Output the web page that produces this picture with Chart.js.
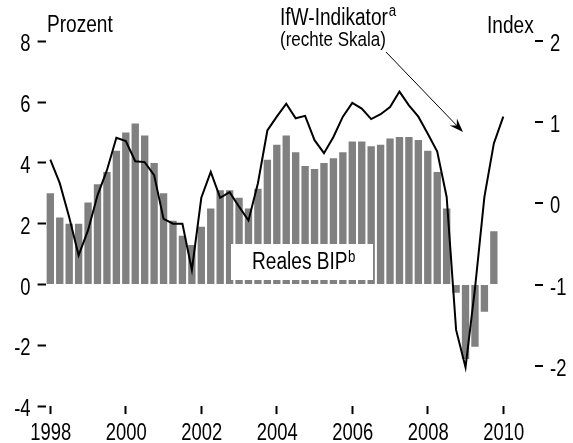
<!DOCTYPE html>
<html><head><meta charset="utf-8">
<script src="https://cdn.jsdelivr.net/npm/chart.js@4.4.1/dist/chart.umd.min.js"></script>
<style>html,body{margin:0;padding:0;background:#fff}#wrap{width:573px;height:443px}</style>
</head><body><div id="wrap"><canvas id="c" width="573" height="443"></canvas></div>
<script>
// Quarterly categories 1998 Q1 .. 2010 Q1
const categories = [
  '1998Q1','1998Q2','1998Q3','1998Q4','1999Q1','1999Q2','1999Q3','1999Q4',
  '2000Q1','2000Q2','2000Q3','2000Q4','2001Q1','2001Q2','2001Q3','2001Q4',
  '2002Q1','2002Q2','2002Q3','2002Q4','2003Q1','2003Q2','2003Q3','2003Q4',
  '2004Q1','2004Q2','2004Q3','2004Q4','2005Q1','2005Q2','2005Q3','2005Q4',
  '2006Q1','2006Q2','2006Q3','2006Q4','2007Q1','2007Q2','2007Q3','2007Q4',
  '2008Q1','2008Q2','2008Q3','2008Q4','2009Q1','2009Q2','2009Q3','2009Q4',
  '2010Q1'
];
// Reales BIP, Veränderung in Prozent (left scale)
const realGDP = [
  3.0, 2.2, 2.0, 2.0, 2.7, 3.3, 3.7, 4.4,
  5.0, 5.3, 4.9, 4.0, 3.0, 2.1, 1.6, 1.3,
  1.9, 2.5, 3.1, 3.1, 2.85, 2.5, 3.15, 4.1,
  4.6, 4.9, 4.35, 3.9, 3.8, 4.0, 4.15, 4.35,
  4.7, 4.7, 4.55, 4.6, 4.8, 4.85, 4.85, 4.75,
  4.4, 3.7, 2.5, -0.27, -2.45, -2.05, -0.9, 1.75
];
// IfW-Indikator, Index (right scale)
const ifwIndicator = [
  0.54, 0.25, -0.17, -0.64, -0.33, 0.10, 0.41, 0.81,
  0.77, 0.52, 0.51, 0.35, -0.19, -0.25, -0.25, -0.82,
  0.07, 0.39, 0.07, 0.14, -0.04, -0.21, 0.25, 0.90,
  1.07, 1.23, 1.05, 1.08, 0.78, 0.62, 0.82, 1.07,
  1.24, 1.17, 1.04, 1.10, 1.19, 1.38, 1.21, 1.07,
  0.86, 0.64, 0.08, -1.56, -2.02, -1.05, 0.08, 0.74,
  1.07
];
const xTickLabels = ['1998','2000','2002','2004','2006','2008','2010'];
const leftTicks = [-4, -2, 0, 2, 4, 6, 8];
const rightTicks = [-2, -1, 0, 1, 2];

const FONT = '"Liberation Sans",Arial,sans-serif';
Chart.defaults.font.family = FONT;
Chart.defaults.color = '#000';

function yearLabel(i) {
  const c = categories[i];
  if (!c || !c.endsWith('Q1')) return '';
  const y = c.slice(0, 4);
  return xTickLabels.includes(y) ? y : '';
}

// condensed text (the original uses a narrow Helvetica/Arial)
function narrowText(ctx, text, x, y, size, align, sx) {
  ctx.save();
  ctx.translate(x, y);
  ctx.scale(sx || 0.83, 1);
  ctx.font = size + 'px ' + FONT;
  ctx.textAlign = align || 'left';
  ctx.textBaseline = 'alphabetic';
  ctx.fillText(text, 0, 0);
  const w = ctx.measureText(text).width * (sx || 0.83);
  ctx.restore();
  return w;
}

const annotations = {
  id: 'annotations',
  afterDatasetsDraw(chart) {
    const ctx = chart.ctx;
    ctx.save();
    ctx.fillStyle = '#fff';
    ctx.fillRect(231, 244, 142, 36);
    ctx.restore();
  },
  afterDraw(chart) {
    const ctx = chart.ctx;
    const xs = chart.scales.x, ys = chart.scales.y, y1 = chart.scales.y1;
    const area = chart.chartArea;
    ctx.save();
    ctx.fillStyle = '#000';
    ctx.strokeStyle = '#000';
    // right-axis tick marks and labels
    ctx.lineWidth = 2;
    rightTicks.forEach(v => {
      const y = Math.round(y1.getPixelForValue(v));
      ctx.beginPath();
      ctx.moveTo(area.right + 27, y);
      ctx.lineTo(area.right + 35, y);
      ctx.stroke();
      narrowText(ctx, String(v), area.right + 42, y + 10, 23, 'left', 0.8);
    });
    // left-axis labels
    leftTicks.forEach(v => {
      const y = ys.getPixelForValue(v);
      narrowText(ctx, String(v), area.left - 15, y + 10, 23, 'right', 0.8);
    });
    // x-axis labels
    categories.forEach((c, i) => {
      const lab = yearLabel(i);
      if (lab) narrowText(ctx, lab, xs.getPixelForValue(i) + 0.5, 440, 23, 'center', 0.8);
    });
    // titles and labels
    narrowText(ctx, 'Prozent', 47, 32, 23);
    narrowText(ctx, 'Index', 487, 33, 23);
    const w1 = narrowText(ctx, 'IfW-Indikator', 280, 25, 23);
    narrowText(ctx, 'a', 280 + w1 + 1, 15.5, 16);
    narrowText(ctx, '(rechte Skala)', 280, 46, 20.5);
    const w2 = narrowText(ctx, 'Reales BIP', 252, 269, 23);
    narrowText(ctx, 'b', 252 + w2 + 0.5, 262, 16);
    // arrow
    const x0 = 386, yA = 52, x1 = 463, yB = 132;
    const ang = Math.atan2(yB - yA, x1 - x0);
    ctx.lineWidth = 1;
    ctx.beginPath();
    ctx.moveTo(x0, yA);
    ctx.lineTo(x1 - 8 * Math.cos(ang), yB - 8 * Math.sin(ang));
    ctx.stroke();
    const L = 14, W = 5;
    const bx = x1 - L * Math.cos(ang), by = yB - L * Math.sin(ang);
    const nx = -Math.sin(ang), ny = Math.cos(ang);
    ctx.beginPath();
    ctx.moveTo(x1, yB);
    ctx.lineTo(bx + nx * W, by + ny * W);
    ctx.lineTo(x1 - 9 * Math.cos(ang), yB - 9 * Math.sin(ang));
    ctx.lineTo(bx - nx * W, by - ny * W);
    ctx.closePath();
    ctx.fill();
    ctx.restore();
  }
};

new Chart(document.getElementById('c'), {
  type: 'bar',
  data: {
    labels: categories,
    datasets: [
      {
        type: 'line', label: 'IfW-Indikator', data: ifwIndicator, yAxisID: 'y1',
        borderColor: '#000', borderWidth: 2, pointRadius: 0, tension: 0, fill: false, order: 0
      },
      {
        type: 'bar', label: 'Reales BIP', data: realGDP, yAxisID: 'y',
        backgroundColor: '#808080', barPercentage: 0.78, categoryPercentage: 1, order: 1
      }
    ]
  },
  options: {
    responsive: false,
    animation: false,
    devicePixelRatio: 1,
    layout: { padding: { top: 41.3, left: 0, right: 0, bottom: 0 } },
    plugins: { legend: { display: false }, tooltip: { enabled: false }, title: { display: false } },
    scales: {
      x: {
        type: 'category', offset: true,
        grid: {
          display: true, drawOnChartArea: false, offset: false, drawTicks: true,
          tickLength: 8, tickWidth: 2,
          tickColor: c => (yearLabel(c.index) ? '#000' : 'rgba(0,0,0,0)')
        },
        border: { display: false },
        ticks: { display: false, autoSkip: false, maxRotation: 0 },
        afterFit: s => { s.height = 443 - 406.1; }
      },
      y: {
        position: 'left', min: -4, max: 8,
        afterBuildTicks: s => { s.ticks = leftTicks.map(v => ({ value: v })); },
        ticks: { display: false },
        grid: { display: true, drawOnChartArea: false, drawTicks: true, tickLength: 8, tickWidth: 2, tickColor: '#000' },
        border: { display: false },
        afterFit: s => { s.width = 45.6; }
      },
      y1: {
        position: 'right', min: -2.5, max: 2,
        afterBuildTicks: s => { s.ticks = rightTicks.map(v => ({ value: v })); },
        ticks: { display: false },
        grid: { display: false, drawTicks: false, tickLength: 0 },
        border: { display: false },
        afterFit: s => { s.width = 573 - 508; }
      }
    }
  },
  plugins: [annotations]
});
</script>
</body></html>
